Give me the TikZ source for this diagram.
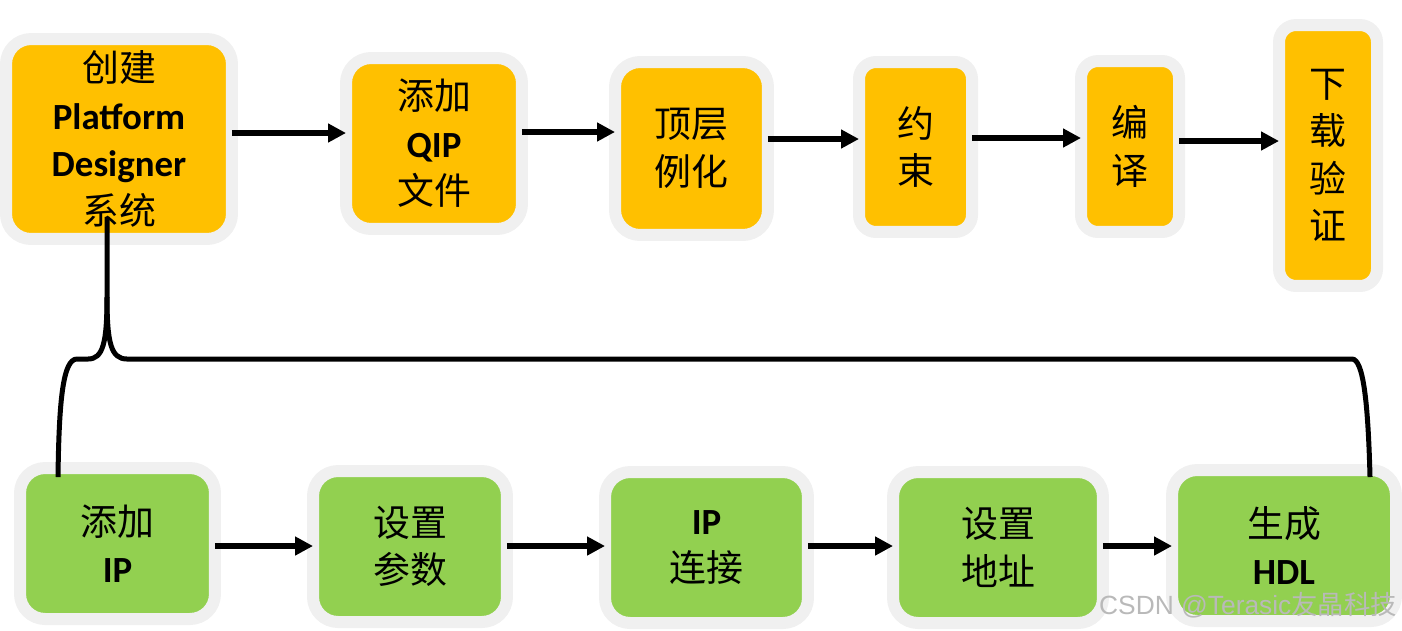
\documentclass[tikz,border=0pt]{standalone}
\usepackage{fontspec}
\setmainfont{Carlito}
\newfontfamily\cjk{Noto Sans CJK SC}
\newfontfamily\wmfont{Liberation Sans}
\usetikzlibrary{arrows.meta,calc}
\definecolor{halo}{HTML}{F0F0F0}
\definecolor{boxorange}{HTML}{FFC000}
\definecolor{boxgreen}{HTML}{92D050}
\newcommand{\lb}[1]{{\rmfamily\bfseries #1}}

\begin{document}
\begin{tikzpicture}[x=0.02cm,y=-0.02cm,>={Triangle[length=0.36cm,width=0.36cm]},
    stepbox/.style={draw=halo,line width=0.24cm,rounded corners=0.5cm,inner sep=0pt,outer sep=0pt,
      align=center,font=\cjk\fontsize{21}{27}\selectfont},
    topbox/.style={stepbox,fill=boxorange},
    lowbox/.style={stepbox,fill=boxgreen,minimum height=3.02cm},
    narrow/.style={rounded corners=0.34cm},
    flow/.style={->,line width=0.12cm},
    link/.style={line width=0.1cm}]
    \useasboundingbox (0,0) rectangle (1402,630);
    % design flow
    \node[topbox,minimum width=4.52cm,minimum height=4cm] (T1) at (119,139) {创建\\\lb{Platform}\\\lb{Designer}\\系统};
    \node[topbox,minimum width=3.52cm,minimum height=3.42cm] (T2) at (434,143.5) {添加\\\lb{QIP}\\文件};
    \node[topbox,minimum width=3.06cm,minimum height=3.46cm] (T3) at (691.5,148.5) {顶层\\例化};
    \node[topbox,narrow,minimum width=2.26cm,minimum height=3.4cm] (T4) at (915.5,147) {约\\束};
    \node[topbox,narrow,minimum width=1.96cm,minimum height=3.42cm] (T5) at (1130,146.5) {编\\译};
    \node[topbox,narrow,minimum width=1.96cm,minimum height=5.22cm] (T6) at (1328,155.5) {下\\载\\验\\证};
    % platform designer steps
    \node[lowbox,minimum width=3.9cm] (B1) at (117.5,543.5) {添加\\\lb{IP}};
    \node[lowbox,minimum width=3.88cm] (B2) at (410,546.5) {设置\\参数};
    \node[lowbox,minimum width=4.06cm] (B3) at (706.5,547.5) {\lb{IP}\\连接};
    \node[lowbox,minimum width=4.2cm] (B4) at (998,547.5) {设置\\地址};
    \node[lowbox,minimum width=4.48cm] (B5) at (1284,545.5) {生成\\\lb{HDL}};
    \draw[flow] (T1.east |- 0,133) -- (T2.west |- 0,133);
    \draw[flow] (T2.east |- 0,132) -- (T3.west |- 0,132);
    \draw[flow] (T3.east |- 0,139) -- (T4.west |- 0,139);
    \draw[flow] (T4.east |- 0,138) -- (T5.west |- 0,138);
    \draw[flow] (T5.east |- 0,141) -- (T6.west |- 0,141);
    \draw[flow] (B1.east |- 0,546) -- (B2.west |- 0,546);
    \draw[flow] (B2.east |- 0,546) -- (B3.west |- 0,546);
    \draw[flow] (B3.east |- 0,546) -- (B4.west |- 0,546);
    \draw[flow] (B4.east |- 0,546) -- (B5.west |- 0,546);
    % brace between the rows
    \coordinate (split) at (107,297);
    \draw[link] ($(T1.south)+(-12,-22)$) -- (split)
      .. controls (107,343) and (111,359) .. (127,359) -- (1352,359)
      .. controls (1363,359) and (1368,400) .. ($(B5.north)+(86,7)$);
    \draw[link] (split) .. controls (107,343) and (103,359) .. (88,359) -- (77,359)
      .. controls (63,359) and (59,400) .. ($(B1.north)+(-59.5,9)$);
    \node[font=\wmfont\fontsize{15}{18}\selectfont,text=gray!55,inner sep=0pt] (mark) at (1248,605) {CSDN @Terasic{\cjk 友晶科技}};
\end{tikzpicture}
\end{document}
